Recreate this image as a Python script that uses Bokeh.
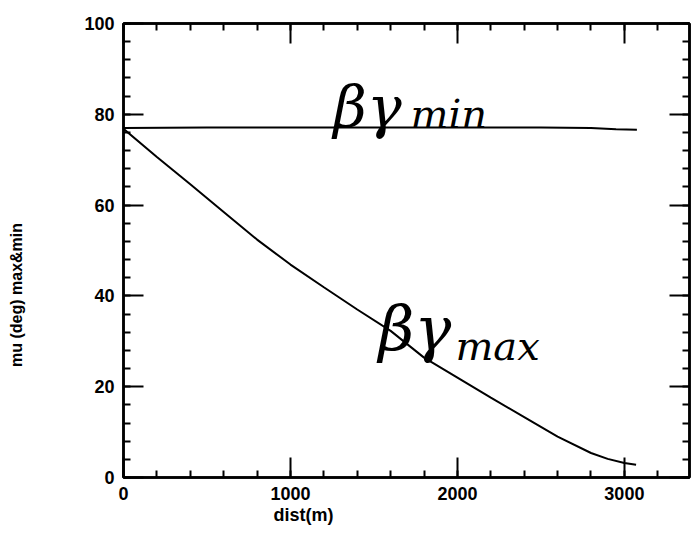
import math
from bokeh.plotting import figure
from bokeh.models import (LinearAxis, SingleIntervalTicker, Range1d, Label, Title)
from bokeh.embed import file_html
from bokeh.resources import INLINE

# ---- data ----
dist_max = [0, 200, 400, 600, 800, 1000, 1200, 1400, 1600, 1800, 2000,
            2200, 2400, 2600, 2800, 2900, 3000, 3070]
mu_max = [76.8, 70.6, 64.6, 58.5, 52.4, 46.9, 41.9, 37.0, 32.3, 26.4, 22.0,
          17.6, 13.3, 9.0, 5.4, 4.1, 3.2, 2.8]
dist_min = [0, 500, 1000, 1500, 2000, 2500, 2800, 2950, 3075]
mu_min = [77.0, 77.1, 77.1, 77.1, 77.1, 77.1, 77.0, 76.7, 76.6]

x_ticks_interval = 1000
y_ticks_interval = 20
x_title = "dist(m)"
y_title = "mu (deg) max&min"

FONT = "Liberation Sans"

p = figure(width=699, height=539, output_backend="svg", toolbar_location=None,
           x_range=Range1d(0, 3390), y_range=Range1d(0, 100),
           x_axis_location=None, y_axis_location=None,
           min_border_left=123, min_border_right=10,
           min_border_top=23, min_border_bottom=62)
p.grid.visible = False
p.outline_line_color = "black"
p.outline_line_width = 2.5
p.background_fill_color = "white"
p.border_fill_color = "white"


def make_axis(ticker_interval, show_labels):
    ax = LinearAxis(ticker=SingleIntervalTicker(interval=ticker_interval, num_minor_ticks=5))
    ax.axis_line_color = "black"
    ax.axis_line_width = 2.5
    ax.major_tick_in = 20
    ax.major_tick_out = 0
    ax.minor_tick_in = 7
    ax.minor_tick_out = 0
    ax.major_tick_line_width = 2
    ax.minor_tick_line_width = 2
    ax.major_tick_line_color = "black"
    ax.minor_tick_line_color = "black"
    ax.major_label_text_font = FONT
    ax.major_label_text_font_size = "18px"
    ax.major_label_text_font_style = "bold"
    ax.major_label_text_color = "black"
    ax.major_label_standoff = 9
    if not show_labels:
        ax.major_label_text_alpha = 0
        ax.major_label_text_font_size = "1px"
        ax.major_label_standoff = 0
    return ax


p.add_layout(make_axis(x_ticks_interval, True), "below")
left_axis = make_axis(y_ticks_interval, True)
# the original's y title sits lower than centre; trailing no-break spaces shift it down
left_axis.axis_label = y_title + "\u00a0" * 20
left_axis.axis_label_standoff = 56
left_axis.axis_label_text_font = FONT
left_axis.axis_label_text_font_size = "16px"
left_axis.axis_label_text_font_style = "bold"
left_axis.axis_label_text_color = "black"
p.add_layout(left_axis, "left")
p.add_layout(make_axis(x_ticks_interval, False), "above")
p.add_layout(make_axis(y_ticks_interval, False), "right")

# x title, placed off-centre as in the original
p.add_layout(Title(text=x_title, align="left", offset=150, standoff=1,
                   text_font=FONT, text_font_size="18px", text_font_style="bold",
                   text_color="black"), "below")

# curves
p.line(dist_min, mu_min, line_color="black", line_width=2)
p.line(dist_max, mu_max, line_color="black", line_width=2)

# hand-written annotations
HAND = "DejaVu Serif"
p.add_layout(Label(x=1257, y=81.5, text="βγ", text_font=HAND, text_font_size="58px",
                   text_font_style="italic", text_baseline="alphabetic", text_color="black"))
p.add_layout(Label(x=1719, y=80.0, text="min", text_font=HAND, text_font_size="40px",
                   text_font_style="italic", text_baseline="alphabetic", text_color="black"))
p.add_layout(Label(x=1527, y=32.8, text="βγ", text_font=HAND, text_font_size="62px",
                   text_font_style="italic", text_baseline="alphabetic", text_color="black"))
p.add_layout(Label(x=1988, y=29.0, text="max", text_font=HAND, text_font_size="40px",
                   text_font_style="italic", text_baseline="alphabetic", text_color="black"))

open("out.html", "w").write(file_html(p, INLINE))
